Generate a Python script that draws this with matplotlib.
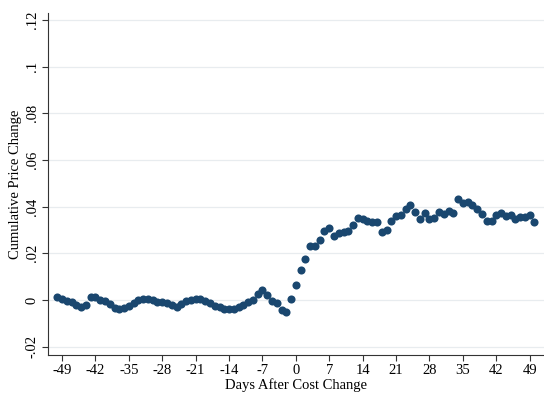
"""
Event-study plot: cumulative price change around a cost change,
drawn in a Stata-like style.
"""
import numpy as np
import matplotlib
matplotlib.use("Agg")
import matplotlib.pyplot as plt

days = np.arange(-50, 51)

# Cumulative price change, days -50 .. -1
pre_change = [
    0.0012, 0.0003, -0.0005, -0.0010, -0.0020, -0.0030, -0.0022, 0.0014, 0.0015, 0.0002,
    -0.0004, -0.0015, -0.0035, -0.0038, -0.0033, -0.0025, -0.0012, -0.0002, 0.0004, 0.0005,
    -0.0002, -0.0008, -0.0010, -0.0014, -0.0020, -0.0028, -0.0018, -0.0006, 0.0001, 0.0005,
    0.0004, -0.0004, -0.0014, -0.0024, -0.0032, -0.0039, -0.0040, -0.0037, -0.0030, -0.0020,
    -0.0008, 0.0002, 0.0027, 0.0043, 0.0021, -0.0003, -0.0011, -0.0043, -0.0050, 0.0003,
]
# Cumulative price change, days 0 .. 50
post_change = [
    0.0064, 0.0127, 0.0176, 0.0233, 0.0233, 0.0257, 0.0297, 0.0310, 0.0274, 0.0288,
    0.0291, 0.0297, 0.0320, 0.0351, 0.0347, 0.0337, 0.0335, 0.0334, 0.0290, 0.0300,
    0.0338, 0.0358, 0.0365, 0.0390, 0.0407, 0.0378, 0.0346, 0.0374, 0.0346, 0.0351,
    0.0378, 0.0368, 0.0382, 0.0374, 0.0433, 0.0414, 0.0421, 0.0407, 0.0388, 0.0367,
    0.0340, 0.0340, 0.0364, 0.0371, 0.0361, 0.0363, 0.0346, 0.0357, 0.0354, 0.0365,
    0.0334,
]
price_change = np.array(pre_change + post_change)

x_ticks = np.arange(-49, 50, 7)
y_ticks = [-0.02, 0, 0.02, 0.04, 0.06, 0.08, 0.10, 0.12]
y_tick_labels = ["-.02", "0", ".02", ".04", ".06", ".08", ".1", ".12"]

plt.rcParams["font.family"] = ["Liberation Serif", "DejaVu Serif"]

fig = plt.figure(figsize=(5.44, 3.93), dpi=100)
ax = fig.add_axes([0.0877, 0.0967, 0.9123, 0.870])

ax.scatter(days, price_change, s=34, color="#1a476f", zorder=3, linewidths=0)

ax.set_xlim(-52, 52)
ax.set_ylim(-0.02355, 0.1229)

ax.set_xticks(x_ticks)
ax.set_xticklabels([str(t) for t in x_ticks], fontsize=10.5)
ax.set_yticks(y_ticks)
ax.set_yticklabels(y_tick_labels, fontsize=10.5, rotation=90, va="center")

ax.grid(axis="y", color="#e8ecef", linewidth=0.9)
ax.set_axisbelow(True)

for side in ("top", "right"):
    ax.spines[side].set_visible(False)
for side in ("left", "bottom"):
    ax.spines[side].set_color("#333333")
    ax.spines[side].set_linewidth(0.8)
ax.tick_params(direction="out", length=4.5, width=0.8, color="#333333", pad=2)

ax.set_xlabel("Days After Cost Change", fontsize=10.5, labelpad=1)
ax.set_ylabel("Cumulative Price Change", fontsize=10.5, labelpad=3)

fig.savefig("out.png", dpi=100)
